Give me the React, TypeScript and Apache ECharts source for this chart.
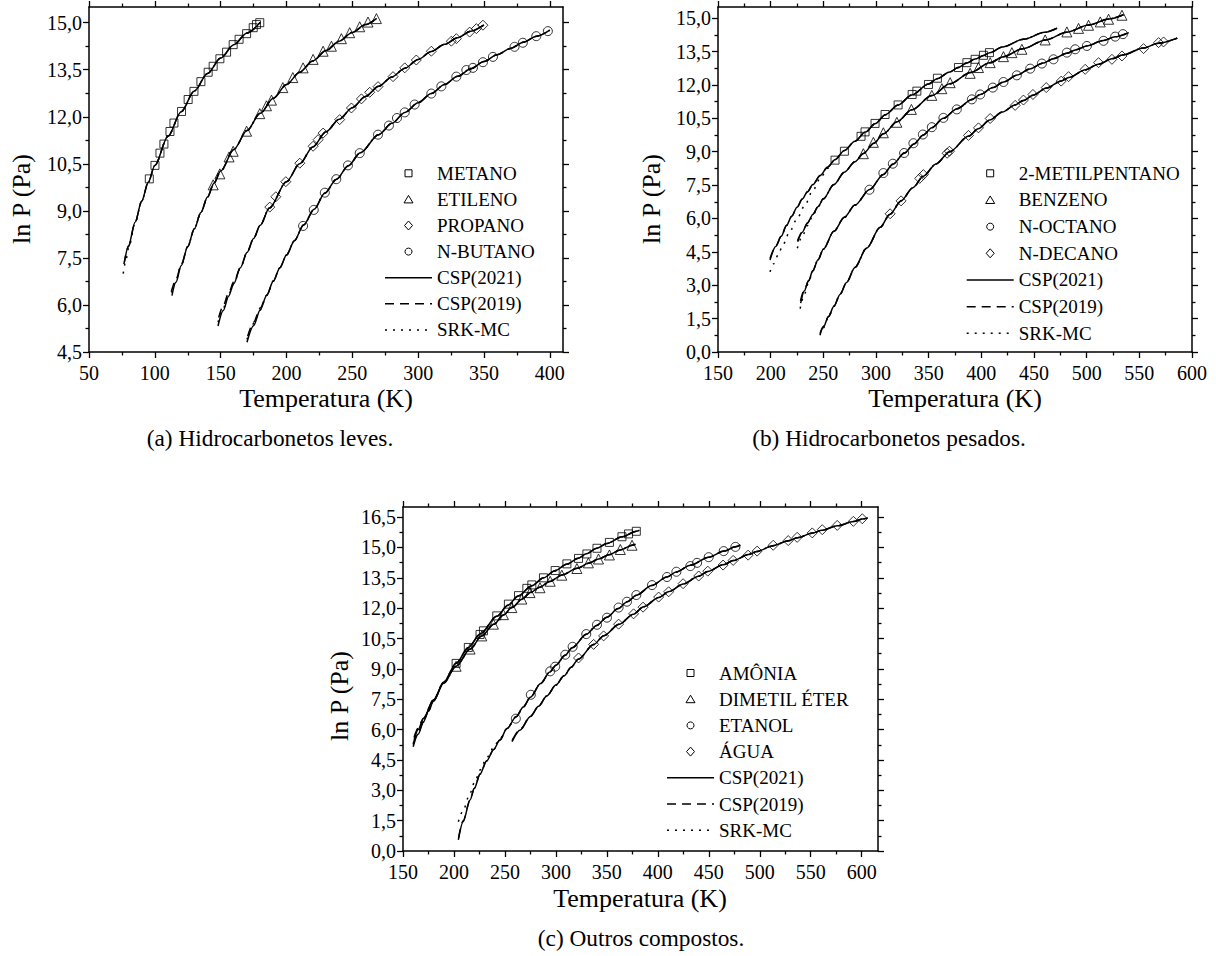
import React, { useEffect, useRef } from 'react';
import * as echarts from 'echarts';

const FONT = 'Liberation Serif';

// ---------- axis ticks ----------
const A_X_TICKS = [50, 100, 150, 200, 250, 300, 350, 400];
const A_X_MINOR = [75, 125, 175, 225, 275, 325, 375];
const A_Y_TICKS = [4.5, 6, 7.5, 9, 10.5, 12, 13.5, 15];
const A_Y_MINOR = [5.25, 6.75, 8.25, 9.75, 11.25, 12.75, 14.25];

const B_X_TICKS = [150, 200, 250, 300, 350, 400, 450, 500, 550, 600];
const B_X_MINOR = [175, 225, 275, 325, 375, 425, 475, 525, 575];
const B_Y_TICKS = [0, 1.5, 3, 4.5, 6, 7.5, 9, 10.5, 12, 13.5, 15];
const B_Y_MINOR = [0.75, 2.25, 3.75, 5.25, 6.75, 8.25, 9.75, 11.25, 12.75, 14.25];

const C_X_TICKS = [150, 200, 250, 300, 350, 400, 450, 500, 550, 600];
const C_X_MINOR = [175, 225, 275, 325, 375, 425, 475, 525, 575];
const C_Y_TICKS = [0, 1.5, 3, 4.5, 6, 7.5, 9, 10.5, 12, 13.5, 15, 16.5];
const C_Y_MINOR = [0.75, 2.25, 3.75, 5.25, 6.75, 8.25, 9.75, 11.25, 12.75, 14.25, 15.75];

// ---------- (a) light hydrocarbons: experimental points ----------
const METANO_T = [95.8, 100.1, 103.9, 106.9, 111.5, 114.5, 120.3, 125.3, 129.7, 135.0, 140.5, 144.3, 149.4, 154.5, 159.5, 164.0, 169.7, 174.7, 177.2, 179.7];
const METANO_LNP = [10.02, 10.45, 10.84, 11.13, 11.53, 11.80, 12.17, 12.55, 12.81, 13.12, 13.42, 13.61, 13.85, 14.06, 14.30, 14.47, 14.65, 14.84, 14.94, 15.0];

const ETILENO_T = [144.3, 149.4, 156.4, 159.5, 169.7, 179.7, 184.8, 188.6, 197.2, 204.8, 212.6, 220.2, 227.8, 234.1, 241.7, 248.0, 255.6, 261.9, 268.3];
const ETILENO_LNP = [9.83, 10.18, 10.72, 10.90, 11.54, 12.10, 12.35, 12.53, 12.93, 13.25, 13.56, 13.83, 14.09, 14.25, 14.49, 14.68, 14.87, 15.02, 15.13];

const PROPANO_T = [187.3, 191.9, 199.5, 210.1, 220.2, 224.0, 227.8, 240.4, 249.3, 256.9, 263.2, 269.5, 280.9, 289.8, 298.6, 310.0, 325.2, 329.0, 339.1, 344.2, 349.2];
const PROPANO_LNP = [9.12, 9.45, 9.93, 10.52, 11.06, 11.27, 11.48, 11.91, 12.28, 12.57, 12.78, 12.96, 13.28, 13.56, 13.81, 14.09, 14.41, 14.49, 14.70, 14.81, 14.92];

const BUTANO_T = [212.6, 220.7, 229.1, 237.8, 246.7, 255.6, 269.5, 277.8, 283.9, 289.8, 297.3, 310.0, 317.6, 329.0, 336.6, 341.6, 349.2, 356.8, 373.2, 379.5, 389.7, 398.5];
const BUTANO_LNP = [8.52, 9.03, 9.58, 10.01, 10.45, 10.84, 11.43, 11.72, 11.96, 12.14, 12.39, 12.74, 12.97, 13.28, 13.49, 13.56, 13.74, 13.91, 14.23, 14.36, 14.57, 14.73];

// ---------- (a) model curves [T (K), ln P (Pa)] ----------
const METANO_CSP2021 = [[77, 7.39], [80, 7.89], [85, 8.64], [90, 9.31], [95, 9.91], [100, 10.45], [110, 11.38], [120, 12.16], [130, 12.82], [140, 13.38], [150, 13.87], [160, 14.30], [170, 14.67], [180, 15.01]];
const METANO_CSP2019 = [[76.5, 7.30], [80, 7.86], [85, 8.63], ...METANO_CSP2021.slice(3)];
const METANO_SRK = [[76, 7.0], [78, 7.42], [80, 7.80], [85, 8.60], ...METANO_CSP2021.slice(3)];

const ETILENO_CSP2021 = [[113, 6.30], [116, 6.72], [120, 7.25], [125, 7.86], [130, 8.43], [135, 8.95], [140, 9.44], [145, 9.89], [150, 10.27], [160, 10.96], [170, 11.56], [180, 12.11], [190, 12.59], [200, 13.03], [210, 13.42], [220, 13.78], [230, 14.11], [240, 14.41], [250, 14.69], [260, 14.94], [268.5, 15.14]];
const ETILENO_CSP2019 = [[112.5, 6.42], [116, 6.80], [120, 7.28], ...ETILENO_CSP2021.slice(3)];
const ETILENO_SRK = [[113, 6.38], [116, 6.76], [120, 7.27], ...ETILENO_CSP2021.slice(3)];

const PROPANO_CSP2021 = [[148, 5.33], [152, 5.82], [156, 6.28], [160, 6.68], [165, 7.19], [170, 7.67], [175, 8.12], [180, 8.54], [187, 9.09], [200, 9.93], [210, 10.50], [220, 11.04], [230, 11.52], [240, 11.92], [250, 12.29], [260, 12.65], [270, 12.97], [280, 13.27], [290, 13.55], [300, 13.83], [310, 14.08], [320, 14.31], [330, 14.52], [340, 14.73], [350, 14.93]];
const PROPANO_CSP2019 = [[148.5, 5.6], [152, 5.98], [156, 6.38], [160, 6.74], ...PROPANO_CSP2021.slice(4)];
const PROPANO_SRK = [[148, 5.45], [152, 5.9], [156, 6.33], ...PROPANO_CSP2021.slice(3)];

const BUTANO_CSP2021 = [[170, 4.81], [175, 5.34], [180, 5.84], [185, 6.31], [190, 6.76], [195, 7.19], [200, 7.59], [206, 8.05], [213, 8.55], [221, 9.05], [229, 9.56], [238, 10.01], [247, 10.44], [256, 10.85], [270, 11.43], [280, 11.79], [290, 12.14], [300, 12.45], [310, 12.74], [320, 13.03], [330, 13.29], [340, 13.53], [350, 13.76], [360, 13.98], [370, 14.18], [380, 14.38], [390, 14.57], [400, 14.76]];
const BUTANO_CSP2019 = [[170.5, 5.0], [175, 5.45], [180, 5.9], ...BUTANO_CSP2021.slice(3)];
const BUTANO_SRK = [[170, 4.9], [175, 5.4], ...BUTANO_CSP2021.slice(2)];

// ---------- (b) heavy hydrocarbons: experimental points ----------
const METILPENTANO_T = [261.1, 270.0, 285.8, 289.6, 299.1, 308.6, 321.0, 334.3, 338.8, 349.8, 358.3, 378.3, 386.3, 394.1, 402.0, 407.7];
const METILPENTANO_LNP = [8.62, 9.02, 9.69, 9.89, 10.27, 10.67, 11.10, 11.57, 11.72, 12.02, 12.30, 12.78, 13.0, 13.15, 13.33, 13.45];

const BENZENO_T = [288.0, 297.5, 307.0, 319.8, 333.6, 353.0, 362.5, 370.4, 389.4, 397.3, 408.4, 421.0, 429.0, 438.5, 460.6, 481.2, 492.3, 501.8, 512.9, 520.8, 533.5];
const BENZENO_LNP = [8.91, 9.42, 9.85, 10.32, 10.90, 11.53, 11.83, 12.10, 12.52, 12.78, 13.0, 13.27, 13.45, 13.60, 14.02, 14.38, 14.54, 14.68, 14.83, 14.95, 15.13];

const OCTANO_T = [293.8, 307.0, 316.0, 326.7, 335.5, 344.5, 353.0, 364.0, 376.7, 391.0, 398.9, 410.9, 421.0, 433.7, 446.4, 457.5, 468.5, 481.2, 489.1, 500.2, 516.0, 527.1, 534.4];
const OCTANO_LNP = [7.29, 8.04, 8.46, 8.94, 9.38, 9.77, 10.10, 10.52, 10.90, 11.35, 11.57, 11.88, 12.13, 12.43, 12.73, 12.96, 13.15, 13.45, 13.60, 13.75, 13.98, 14.17, 14.28];

const DECANO_T = [313.4, 323.8, 341.5, 345.0, 367.5, 369.7, 387.8, 397.3, 408.4, 432.1, 440.0, 449.0, 461.6, 475.8, 482.8, 498.6, 511.3, 524.0, 533.5, 554.0, 568.3, 573.0];
const DECANO_LNP = [6.21, 6.79, 7.80, 7.97, 8.93, 9.02, 9.73, 10.07, 10.49, 11.08, 11.32, 11.57, 11.88, 12.17, 12.37, 12.70, 13.0, 13.15, 13.30, 13.63, 13.90, 13.93];

// ---------- (b) model curves ----------
const METILPENTANO_CSP2021 = [[199.4, 4.13], [205, 4.75], [210, 5.2], [215, 5.68], [220, 6.1], [225, 6.5], [230, 6.87], [235, 7.2], [240, 7.52], [247, 7.93], [254, 8.3], [261, 8.64], [270, 9.05], [280, 9.47], [290, 9.88], [299, 10.25], [309, 10.66], [321, 11.1], [334, 11.55], [350, 12.04], [358, 12.28], [370, 12.58], [378, 12.78], [386, 12.98], [394, 13.16], [402, 13.32], [408, 13.45], [420, 13.7], [440, 14.05], [460, 14.36], [472, 14.55]];
const METILPENTANO_CSP2019 = [[199.4, 4.2], [205, 4.78], ...METILPENTANO_CSP2021.slice(2)];
const METILPENTANO_SRK = [[199.4, 3.6], [203, 3.97], [207, 4.36], [212, 4.85], [218, 5.4], [225, 5.98], [232, 6.55], [240, 7.25], [247, 7.8], [254, 8.25], ...METILPENTANO_CSP2021.slice(11)];

const BENZENO_CSP2021 = [[225.7, 4.95], [230, 5.38], [235, 5.8], [240, 6.18], [245, 6.53], [250, 6.88], [260, 7.52], [270, 8.08], [280, 8.55], [288, 8.92], [298, 9.38], [307, 9.8], [320, 10.34], [334, 10.88], [353, 11.52], [370, 12.05], [390, 12.56], [408, 12.99], [421, 13.27], [439, 13.62], [461, 14.02], [481, 14.37], [502, 14.69], [521, 14.96], [535, 15.15]];
const BENZENO_CSP2019 = [[225.5, 5.0], [230, 5.4], ...BENZENO_CSP2021.slice(2)];
const BENZENO_SRK = [[225.3, 4.66], [230, 5.2], [235, 5.68], [240, 6.12], ...BENZENO_CSP2021.slice(4)];

const OCTANO_CSP2021 = [[228.5, 2.2], [232, 2.75], [236, 3.2], [240, 3.65], [245, 4.15], [250, 4.62], [260, 5.42], [270, 6.05], [280, 6.6], [294, 7.3], [307, 7.98], [316, 8.44], [327, 8.94], [336, 9.35], [345, 9.75], [353, 10.08], [364, 10.5], [377, 10.93], [391, 11.34], [399, 11.57], [411, 11.88], [421, 12.13], [434, 12.44], [446, 12.72], [458, 12.97], [469, 13.19], [481, 13.42], [490, 13.58], [500, 13.75], [516, 14.0], [527, 14.16], [540, 14.35]];
const OCTANO_CSP2019 = [[228.3, 2.3], [232, 2.8], ...OCTANO_CSP2021.slice(2)];
const OCTANO_SRK = [[228, 1.95], [232, 2.6], [236, 3.12], ...OCTANO_CSP2021.slice(3)];

const DECANO_CSP2021 = [[247, 0.8], [250, 1.12], [255, 1.6], [260, 2.05], [266, 2.6], [272, 3.12], [280, 3.8], [291, 4.66], [304, 5.6], [313, 6.18], [324, 6.8], [335, 7.38], [345, 7.9], [357, 8.45], [370, 9.0], [388, 9.7], [397, 10.03], [408, 10.42], [420, 10.78], [432, 11.1], [440, 11.3], [449, 11.54], [462, 11.86], [476, 12.18], [483, 12.33], [499, 12.68], [511, 12.93], [524, 13.17], [534, 13.34], [554, 13.66], [568, 13.87], [586, 14.1]];
const DECANO_CSP2019 = [[247, 0.85], [250, 1.15], ...DECANO_CSP2021.slice(2)];
const DECANO_SRK = [[246.8, 0.75], [250, 1.08], ...DECANO_CSP2021.slice(2)];

// ---------- (c) other compounds: experimental points ----------
const AMONIA_T = [202.1, 214.1, 225.6, 228.9, 242.0, 253.4, 263.3, 271.5, 276.4, 287.8, 299.3, 310.8, 322.2, 330.4, 340.3, 352.5, 364.8, 371.3, 378.9];
const AMONIA_LNP = [9.27, 10.06, 10.70, 10.88, 11.62, 12.20, 12.62, 12.98, 13.15, 13.50, 13.86, 14.19, 14.46, 14.68, 14.96, 15.25, 15.53, 15.67, 15.80];

const DME_T = [202.1, 215.8, 227.3, 238.7, 248.5, 256.8, 266.6, 274.6, 284.4, 294.4, 305.8, 320.6, 331.9, 341.8, 352.5, 363.2, 374.7];
const DME_LNP = [9.13, 9.98, 10.63, 11.21, 11.68, 12.03, 12.45, 12.77, 13.01, 13.33, 13.63, 13.96, 14.24, 14.43, 14.63, 14.90, 15.11];

const ETANOL_T = [260.7, 275.4, 294.4, 299.3, 309.2, 316.4, 329.8, 340.3, 350.1, 361.5, 369.7, 378.9, 394.3, 409.0, 418.2, 431.9, 438.5, 449.9, 464.6, 476.1];
const ETANOL_LNP = [6.54, 7.72, 8.88, 9.11, 9.70, 10.09, 10.72, 11.18, 11.53, 12.03, 12.32, 12.65, 13.14, 13.54, 13.80, 14.08, 14.24, 14.52, 14.82, 15.03];

const AGUA_T = [322.2, 337.0, 346.8, 361.5, 376.2, 385.5, 400.8, 410.6, 424.8, 440.1, 449.0, 464.0, 473.9, 488.6, 497.4, 513.2, 527.9, 536.7, 551.5, 561.3, 576.0, 591.8, 600.6];
const AGUA_LNP = [9.54, 10.21, 10.63, 11.21, 11.72, 12.05, 12.55, 12.81, 13.21, 13.59, 13.83, 14.13, 14.36, 14.62, 14.82, 15.11, 15.34, 15.50, 15.72, 15.88, 16.09, 16.29, 16.42];

// ---------- (c) model curves ----------
const AMONIA_CSP2021 = [[160, 5.15], [165, 5.78], [170, 6.38], [175, 6.92], [180, 7.42], [190, 8.35], [202, 9.27], [214, 10.05], [226, 10.74], [242, 11.6], [253, 12.15], [263, 12.6], [276, 13.1], [288, 13.5], [299, 13.85], [311, 14.18], [322, 14.47], [330, 14.69], [340, 14.96], [350, 15.2], [365, 15.53], [379, 15.8], [382, 15.85]];
const AMONIA_CSP2019 = [[160, 5.3], [165, 5.88], ...AMONIA_CSP2021.slice(2)];
const AMONIA_SRK = [[160, 5.25], [165, 5.85], ...AMONIA_CSP2021.slice(2)];

const DME_CSP2021 = [[161, 5.5], [165, 6.0], [170, 6.55], [180, 7.48], [190, 8.3], [202, 9.13], [216, 9.98], [227, 10.62], [239, 11.2], [248.5, 11.66], [257, 12.04], [267, 12.45], [275, 12.77], [284, 13.03], [294, 13.32], [306, 13.64], [321, 13.97], [332, 14.22], [342, 14.43], [352, 14.64], [363, 14.88], [375, 15.11], [378, 15.16]];
const DME_CSP2019 = [[161, 5.65], [165, 6.08], ...DME_CSP2021.slice(2)];
const DME_SRK = [[161, 5.6], [165, 6.05], ...DME_CSP2021.slice(2)];

const ETANOL_CSP2021 = [[204.3, 0.55], [209, 1.45], [215.8, 2.52], [220, 3.1], [225.6, 3.8], [232, 4.45], [239, 5.02], [245, 5.48], [252, 6.05], [261, 6.63], [268, 7.12], [275, 7.6], [285, 8.28], [294, 8.84], [300, 9.18], [309, 9.67], [316, 10.05], [330, 10.71], [340, 11.15], [350, 11.55], [361, 11.98], [370, 12.32], [379, 12.64], [394, 13.12], [409, 13.54], [418, 13.79], [432, 14.12], [450, 14.52], [465, 14.82], [476, 15.03], [481, 15.12]];
const ETANOL_CSP2019 = [[204.5, 0.65], [209, 1.5], ...ETANOL_CSP2021.slice(2)];
const ETANOL_SRK = [[204.3, 1.45], [209, 2.0], [215, 2.75], [220, 3.38], [226, 4.02], [232, 4.6], [239, 5.12], [245, 5.55], ...ETANOL_CSP2021.slice(8)];

const AGUA_CSP2021 = [[257, 5.4], [265, 5.98], [275, 6.65], [283, 7.15], [291, 7.66], [300, 8.2], [308, 8.66], [315, 9.08], [322, 9.48], [337, 10.2], [347, 10.64], [362, 11.2], [376, 11.7], [386, 12.07], [401, 12.53], [411, 12.82], [425, 13.2], [440, 13.58], [449, 13.81], [464, 14.14], [474, 14.35], [489, 14.65], [497, 14.8], [513, 15.09], [528, 15.33], [537, 15.48], [552, 15.71], [561, 15.85], [576, 16.07], [592, 16.28], [601, 16.41], [606, 16.47]];
const AGUA_CSP2019 = [[257.5, 5.5], [265, 6.02], ...AGUA_CSP2021.slice(2)];
const AGUA_SRK = [[257, 5.45], [265, 6.0], ...AGUA_CSP2021.slice(2)];

// ---------- legend entries ----------
const LEGEND_A = ['METANO', 'ETILENO', 'PROPANO', 'N-BUTANO'];
const LEGEND_B = ['2-METILPENTANO', 'BENZENO', 'N-OCTANO', 'N-DECANO'];
const LEGEND_C = ['AMÔNIA', 'DIMETIL ÉTER', 'ETANOL', 'ÁGUA'];
const MODEL_NAMES = ['CSP(2021)', 'CSP(2019)', 'SRK-MC'];

// ---------- panel layout ----------
const GRIDS = [
  { left: 89, top: 7, width: 474, height: 345 },
  { left: 718, top: 7, width: 474, height: 345 },
  { left: 403, top: 507, width: 475, height: 344 },
];

const SOLID: any = 'solid';
const DASHED = [9, 6];
const DOTTED = [2, 6];

const fmtComma = (v: number) => v.toFixed(1).replace('.', ',');

type Spec = { min: number; max: number; major: number[]; minor: number[] };

function axesFor(dim: 'x' | 'y', grid: number, s: Spec) {
  const sides = dim === 'x' ? ['bottom', 'top'] : ['left', 'right'];
  const base = { type: 'value', gridIndex: grid, min: s.min, max: s.max, splitLine: { show: false } };
  const tickStyle = { color: '#000', width: 1.3 };
  const list: any[] = [];
  sides.forEach((pos, i) => {
    list.push({
      ...base,
      position: pos,
      axisLine: { show: true, onZero: false, lineStyle: { color: '#000', width: 1.5 } },
      axisTick: { show: true, inside: false, length: 6, customValues: s.major, lineStyle: tickStyle },
      axisLabel: i === 0
        ? {
            show: true,
            customValues: s.major,
            margin: dim === 'x' ? 10.5 : 7,
            color: '#000',
            fontFamily: FONT,
            fontSize: 20,
            lineHeight: 20,
            formatter: dim === 'y' ? fmtComma : (v: number) => String(v),
          }
        : { show: false },
    });
    list.push({
      ...base,
      position: pos,
      axisLine: { show: false, onZero: false },
      axisTick: { show: true, inside: false, length: 3.5, customValues: s.minor, lineStyle: tickStyle },
      axisLabel: { show: false },
    });
  });
  return list;
}

function markers(name: string, symbol: string, size: number, t: number[], v: number[], grid: number) {
  return {
    type: 'scatter',
    name,
    xAxisIndex: grid * 4,
    yAxisIndex: grid * 4,
    symbol,
    symbolSize: size,
    data: t.map((x, i) => [x, v[i]]),
    itemStyle: { color: 'rgba(0,0,0,0)', borderColor: '#000', borderWidth: 1 },
    z: 4,
    silent: true,
  };
}

function curve(name: string, data: number[][], grid: number, type: any, z: number) {
  return {
    type: 'line',
    name,
    xAxisIndex: grid * 4,
    yAxisIndex: grid * 4,
    data,
    symbol: 'none',
    smooth: 0.3,
    smoothMonotone: 'x',
    lineStyle: { color: '#000', width: 1.5, type },
    z,
    silent: true,
  };
}

function models(c2021: number[][], c2019: number[][], srk: number[][], grid: number) {
  return [
    curve(MODEL_NAMES[2], srk, grid, DOTTED, 1),
    curve(MODEL_NAMES[1], c2019, grid, DASHED, 2),
    curve(MODEL_NAMES[0], c2021, grid, SOLID, 3),
  ];
}

const stroke = { fill: 'none', stroke: '#000', lineWidth: 1 };

function keyMark(kind: string, cx: number, cy: number) {
  if (kind === 'rect') return { type: 'rect', shape: { x: cx - 3.5, y: cy - 3.5, width: 7, height: 7 }, style: stroke };
  if (kind === 'triangle')
    return { type: 'polygon', shape: { points: [[cx, cy - 4], [cx + 4.5, cy + 3.5], [cx - 4.5, cy + 3.5]] }, style: stroke };
  if (kind === 'circle') return { type: 'circle', shape: { cx, cy, r: 3.5 }, style: stroke };
  return { type: 'polygon', shape: { points: [[cx, cy - 4.5], [cx + 4, cy], [cx, cy + 4.5], [cx - 4, cy]] }, style: stroke };
}

function text(str: string, x: number, y: number, size: number, align = 'center', rotate = false) {
  return {
    type: 'text',
    x,
    y,
    rotation: rotate ? Math.PI / 2 : 0,
    silent: true,
    style: { text: str, fontFamily: FONT, fontSize: size, fill: '#000', align, verticalAlign: 'middle' },
  };
}

// key box: four marker rows, then the three model line styles
function keyBox(x0: number, y0: number, step: number, names: string[], kinds: string[]) {
  const els: any[] = [];
  names.forEach((n, i) => {
    const cy = y0 + i * step;
    els.push(keyMark(kinds[i], x0 + 23.5, cy));
    els.push(text(n, x0 + 52, cy, 19, 'left'));
  });
  const dashes = [null, DASHED, DOTTED];
  MODEL_NAMES.forEach((n, j) => {
    const cy = y0 + (names.length + j) * step;
    els.push({
      type: 'line',
      silent: true,
      shape: { x1: x0, y1: cy, x2: x0 + 47, y2: cy },
      style: { stroke: '#000', lineWidth: 1.5, lineDash: dashes[j] },
    });
    els.push(text(n, x0 + 52, cy, 19, 'left'));
  });
  return els;
}

function buildOption() {
  const specs: [Spec, Spec][] = [
    [
      { min: 50, max: 410, major: A_X_TICKS, minor: A_X_MINOR },
      { min: 4.5, max: 15.5, major: A_Y_TICKS, minor: A_Y_MINOR },
    ],
    [
      { min: 150, max: 600, major: B_X_TICKS, minor: B_X_MINOR },
      { min: 0, max: 15.5, major: B_Y_TICKS, minor: B_Y_MINOR },
    ],
    [
      { min: 150, max: 616, major: C_X_TICKS, minor: C_X_MINOR },
      { min: 0, max: 17, major: C_Y_TICKS, minor: C_Y_MINOR },
    ],
  ];
  const xAxis: any[] = [];
  const yAxis: any[] = [];
  specs.forEach(([sx, sy], g) => {
    xAxis.push(...axesFor('x', g, sx));
    yAxis.push(...axesFor('y', g, sy));
  });

  const series = [
    // (a)
    ...models(METANO_CSP2021, METANO_CSP2019, METANO_SRK, 0),
    ...models(ETILENO_CSP2021, ETILENO_CSP2019, ETILENO_SRK, 0),
    ...models(PROPANO_CSP2021, PROPANO_CSP2019, PROPANO_SRK, 0),
    ...models(BUTANO_CSP2021, BUTANO_CSP2019, BUTANO_SRK, 0),
    markers(LEGEND_A[0], 'rect', 8, METANO_T, METANO_LNP, 0),
    markers(LEGEND_A[1], 'triangle', 10, ETILENO_T, ETILENO_LNP, 0),
    markers(LEGEND_A[2], 'diamond', 10, PROPANO_T, PROPANO_LNP, 0),
    markers(LEGEND_A[3], 'circle', 9, BUTANO_T, BUTANO_LNP, 0),
    // (b)
    ...models(METILPENTANO_CSP2021, METILPENTANO_CSP2019, METILPENTANO_SRK, 1),
    ...models(BENZENO_CSP2021, BENZENO_CSP2019, BENZENO_SRK, 1),
    ...models(OCTANO_CSP2021, OCTANO_CSP2019, OCTANO_SRK, 1),
    ...models(DECANO_CSP2021, DECANO_CSP2019, DECANO_SRK, 1),
    markers(LEGEND_B[0], 'rect', 8, METILPENTANO_T, METILPENTANO_LNP, 1),
    markers(LEGEND_B[1], 'triangle', 10, BENZENO_T, BENZENO_LNP, 1),
    markers(LEGEND_B[2], 'circle', 9, OCTANO_T, OCTANO_LNP, 1),
    markers(LEGEND_B[3], 'diamond', 10, DECANO_T, DECANO_LNP, 1),
    // (c)
    ...models(AMONIA_CSP2021, AMONIA_CSP2019, AMONIA_SRK, 2),
    ...models(DME_CSP2021, DME_CSP2019, DME_SRK, 2),
    ...models(ETANOL_CSP2021, ETANOL_CSP2019, ETANOL_SRK, 2),
    ...models(AGUA_CSP2021, AGUA_CSP2019, AGUA_SRK, 2),
    markers(LEGEND_C[0], 'rect', 8, AMONIA_T, AMONIA_LNP, 2),
    markers(LEGEND_C[1], 'triangle', 10, DME_T, DME_LNP, 2),
    markers(LEGEND_C[2], 'circle', 9, ETANOL_T, ETANOL_LNP, 2),
    markers(LEGEND_C[3], 'diamond', 10, AGUA_T, AGUA_LNP, 2),
  ];

  return {
    animation: false,
    backgroundColor: '#fff',
    textStyle: { fontFamily: FONT },
    grid: GRIDS.map((g) => ({ ...g, containLabel: false, outerBoundsMode: 'none', show: false })),
    xAxis,
    yAxis,
    series,
    graphic: [
      ...keyBox(385, 173.3, 26.1, LEGEND_A, ['rect', 'triangle', 'diamond', 'circle']),
      ...keyBox(966.7, 173.3, 26.67, LEGEND_B, ['rect', 'triangle', 'circle', 'diamond']),
      ...keyBox(667, 673, 26.2, LEGEND_C, ['rect', 'triangle', 'circle', 'diamond']),
      text('Temperatura (K)', 326, 398, 26),
      text('Temperatura (K)', 955, 398, 26),
      text('Temperatura (K)', 640, 898, 26),
      text('ln P (Pa)', 21, 199, 26, 'center', true),
      text('ln P (Pa)', 651, 199, 26, 'center', true),
      text('ln P (Pa)', 339, 696, 26, 'center', true),
      text('(a) Hidrocarbonetos leves.', 270, 438, 23.3),
      text('(b) Hidrocarbonetos pesados.', 889, 438, 23.3),
      text('(c) Outros compostos.', 641, 938, 23.3),
    ],
  };
}

export default function App() {
  const ref = useRef<HTMLDivElement>(null);
  useEffect(() => {
    if (!ref.current) return;
    const chart = echarts.init(ref.current, null, { renderer: 'svg' });
    chart.setOption(buildOption() as any);
    return () => chart.dispose();
  }, []);
  return (
    <div
      ref={ref}
      style={{ position: 'absolute', left: 0, top: 0, width: 1216, height: 956, background: '#fff' }}
    />
  );
}
